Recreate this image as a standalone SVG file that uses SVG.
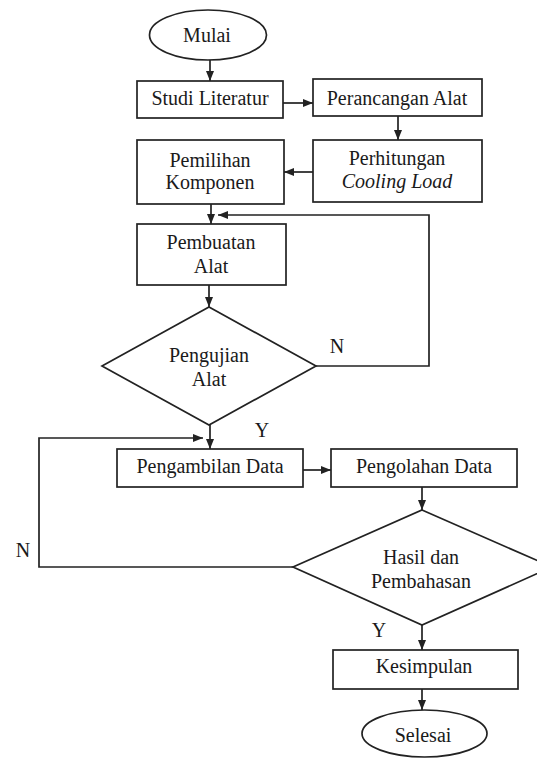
<svg xmlns="http://www.w3.org/2000/svg" width="537" height="758" viewBox="0 0 537 758">
<style>
.shape{fill:#fff;stroke:#222;stroke-width:1.7}
.t{font-family:"Liberation Serif","Times New Roman",serif;font-size:20px;fill:#1a1a1a;text-anchor:middle}
.i{font-style:italic}
.c{fill:none;stroke:#222;stroke-width:1.7}
</style>
<defs>
<marker id="ah" markerUnits="userSpaceOnUse" markerWidth="10" markerHeight="10" viewBox="0 0 10 10" refX="10" refY="5" orient="auto">
<path d="M0,1 L10,5 L0,9 Z" fill="#222"/>
</marker>
</defs>
<rect width="537" height="758" fill="#fff"/>
<g id="connectors">
<line class="c" x1="210" y1="60" x2="210" y2="81" marker-end="url(#ah)"/>
<line class="c" x1="283" y1="103" x2="313" y2="103" marker-end="url(#ah)"/>
<line class="c" x1="398" y1="116" x2="398" y2="140" marker-end="url(#ah)"/>
<line class="c" x1="313" y1="172" x2="284" y2="172" marker-end="url(#ah)"/>
<line class="c" x1="211" y1="204" x2="211" y2="224" marker-end="url(#ah)"/>
<line class="c" x1="209" y1="285" x2="209" y2="307" marker-end="url(#ah)"/>
<polyline class="c" points="316,366 429,366 429,215 218,215" marker-end="url(#ah)"/>
<line class="c" x1="210" y1="425" x2="210" y2="449" marker-end="url(#ah)"/>
<line class="c" x1="303" y1="470" x2="331" y2="470" marker-end="url(#ah)"/>
<line class="c" x1="422" y1="487" x2="422" y2="510" marker-end="url(#ah)"/>
<polyline class="c" points="293,567 39,567 39,438 203,438" marker-end="url(#ah)"/>
<line class="c" x1="422" y1="625" x2="422" y2="650" marker-end="url(#ah)"/>
<line class="c" x1="422" y1="689" x2="422" y2="710" marker-end="url(#ah)"/>
</g>
<g id="mulai">
<ellipse class="shape" cx="208" cy="35" rx="58.5" ry="25"/>
<text class="t" x="207" y="42">Mulai</text>
</g>
<g id="studi-literatur">
<rect class="shape" x="137" y="81" width="146" height="37"/>
<text class="t" x="210" y="105">Studi Literatur</text>
</g>
<g id="perancangan-alat">
<rect class="shape" x="313" y="79" width="169" height="37"/>
<text class="t" x="397" y="105">Perancangan Alat</text>
</g>
<g id="pemilihan-komponen">
<rect class="shape" x="137" y="140" width="147" height="64"/>
<text class="t" x="210" y="167">Pemilihan</text>
<text class="t" x="210" y="189">Komponen</text>
</g>
<g id="perhitungan-cooling-load">
<rect class="shape" x="313" y="140" width="169" height="62"/>
<text class="t" x="397" y="165">Perhitungan</text>
<text class="t i" x="397" y="188">Cooling Load</text>
</g>
<g id="pembuatan-alat">
<rect class="shape" x="137" y="224" width="149" height="61"/>
<text class="t" x="211" y="249">Pembuatan</text>
<text class="t" x="211" y="273">Alat</text>
</g>
<g id="pengujian-alat">
<polygon class="shape" points="209,307 316,366 209,425 102,366"/>
<text class="t" x="209" y="362">Pengujian</text>
<text class="t" x="209" y="386">Alat</text>
</g>
<g id="pengambilan-data">
<rect class="shape" x="117" y="449" width="186" height="38"/>
<text class="t" x="210" y="473">Pengambilan Data</text>
</g>
<g id="pengolahan-data">
<rect class="shape" x="331" y="449" width="186" height="38"/>
<text class="t" x="424" y="473">Pengolahan Data</text>
</g>
<g id="hasil-dan-pembahasan">
<polygon class="shape" points="422,510 552,567 422,625 293,567"/>
<text class="t" x="421" y="564">Hasil dan</text>
<text class="t" x="421" y="588">Pembahasan</text>
</g>
<g id="kesimpulan">
<rect class="shape" x="333" y="650" width="185" height="39"/>
<text class="t" x="424" y="673">Kesimpulan</text>
</g>
<g id="selesai">
<ellipse class="shape" cx="424.5" cy="733.5" rx="62.5" ry="23.5"/>
<text class="t" x="423" y="742">Selesai</text>
</g>
<g id="labels">
<text class="t" x="337" y="353">N</text>
<text class="t" x="262" y="437">Y</text>
<text class="t" x="23" y="557">N</text>
<text class="t" x="379" y="637">Y</text>
</g>
</svg>
